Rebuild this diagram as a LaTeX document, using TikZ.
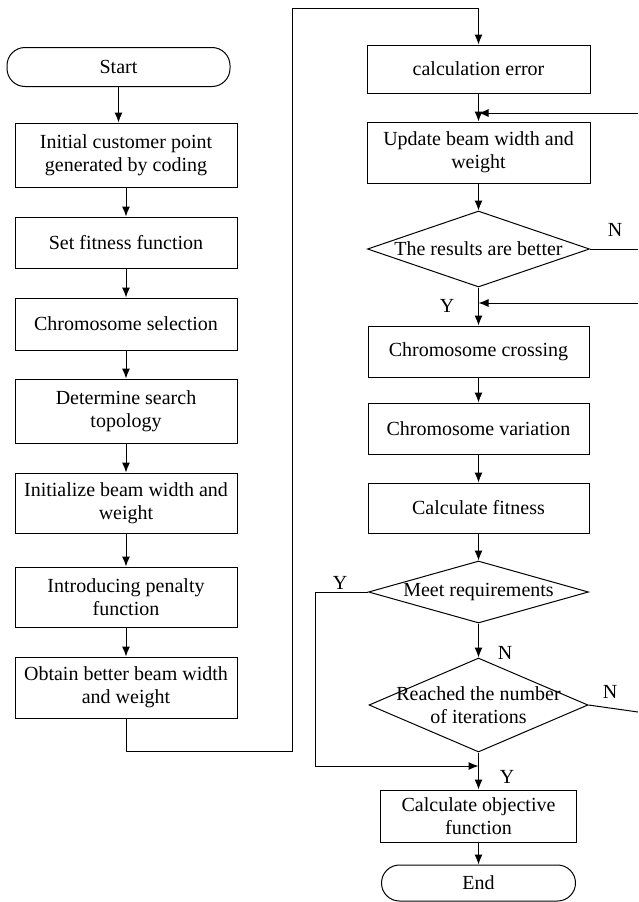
\documentclass[tikz,border=0pt]{standalone}
\usepackage{fontspec}
\setmainfont{Liberation Serif}
\usetikzlibrary{shapes.geometric,arrows.meta}
\begin{document}
\begin{tikzpicture}[x=1pt,y=-1pt,>={Latex[length=10pt,width=8pt]},line width=1pt,
	font=\fontsize{20}{23}\selectfont,
	box/.style={draw,minimum width=222pt,align=center,inner sep=2pt},
	term/.style={draw,rounded corners=18pt,minimum height=37pt,align=center},
	dia/.style={draw,diamond,inner sep=0pt},
	lbl/.style={inner sep=0pt}]
	\useasboundingbox (0,0) rectangle (638,902);
	% left column
	\node[term,minimum width=223pt,minimum height=39pt] (start) at (118.5,67) {Start};
	\node[box,minimum height=64pt] (b1) at (126,155) {Initial customer point\\generated by coding};
	\node[box,minimum height=51pt] (b2) at (126,242.5) {Set fitness function};
	\node[box,minimum height=52pt] (b3) at (126,324) {Chromosome selection};
	\node[box,minimum height=64pt] (b4) at (126,411) {Determine search\\topology};
	\node[box,minimum height=60pt] (b5) at (126,503) {Initialize beam width and\\weight};
	\node[box,minimum height=60pt] (b6) at (126,597) {Introducing penalty\\function};
	\node[box,minimum height=61pt] (b7) at (126,687.5) {Obtain better beam width\\and weight};
	\draw[->] (start) -- (start |- b1.north);
	\draw[->] (b1) -- (b2);
	\draw[->] (b2) -- (b3);
	\draw[->] (b3) -- (b4);
	\draw[->] (b4) -- (b5);
	\draw[->] (b5) -- (b6);
	\draw[->] (b6) -- (b7);
	% right column
	\node[box,minimum width=223pt,minimum height=48pt] (c1) at (478.5,69) {calculation error};
	\node[box,minimum width=223pt,minimum height=61pt] (c2) at (478.5,152.5) {Update beam width and\\weight};
	\node[dia,minimum width=222pt,minimum height=76pt] (d1) at (478.5,249) {};
	\node (d1t) at (d1) {The results are better};
	\node[box,minimum width=221pt,minimum height=51pt] (c3) at (478.5,351.5) {Chromosome crossing};
	\node[box,minimum width=221pt,minimum height=51pt] (c4) at (478.5,428.5) {Chromosome variation};
	\node[box,minimum width=221pt,minimum height=50pt] (c5) at (478.5,508) {Calculate fitness};
	\node[dia,minimum width=220pt,minimum height=62pt] (d2) at (478.5,592) {};
	\node (d2t) at (d2) {Meet requirements};
	\node[dia,minimum width=219pt,minimum height=94pt] (d3) at (478.5,705) {};
	\node[align=center] (d3t) at (d3) {Reached the number\\of iterations};
	\node[box,minimum width=196pt,minimum height=52pt] (c6) at (478.5,816) {Calculate objective\\function};
	\node[term,minimum width=194pt,minimum height=36pt] (end) at (478.5,883) {End};
	% loops and jumps
	\coordinate (lb) at (292,751);
	\coordinate (lt) at (292,8);
	\draw[->] (b7) -- (b7 |- lb) -- (lb) -- (lt) -| (c1);
	\draw[->] (c1) -- (c2);
	\draw[->] (c2) -- (d1);
	\draw[->] (d1) -- (c3);
	\draw[->] (c3) -- (c4);
	\draw[->] (c4) -- (c5);
	\draw[->] (c5) -- (d2);
	\draw[->] (d2) -- (d3);
	\draw[->] (d3) -- (c6);
	\draw[->] (c6) -- (end);
	\coordinate (r1) at (638,113);
	\coordinate (r2) at (638,249);
	\coordinate (r3) at (638,303);
	\coordinate (r4) at (638,712);
	\coordinate (ly) at (315,766);
	\draw[->] (r1) -- (c2 |- r1);
	\draw (d1.east) -- (r2);
	\draw[->] (r3) -- (c3 |- r3);
	\draw (d3.east) -- (r4);
	\draw[->] (d2.west) -| (ly) -- (d3 |- ly);
	% Y / N marks
	\node[lbl] (n1) at (615,230) {N};
	\node[lbl] (y1) at (447,306) {Y};
	\node[lbl] (y2) at (340,583) {Y};
	\node[lbl] (n2) at (505,653) {N};
	\node[lbl] (n3) at (610,692) {N};
	\node[lbl] (y3) at (507,777) {Y};
\end{tikzpicture}
\end{document}
